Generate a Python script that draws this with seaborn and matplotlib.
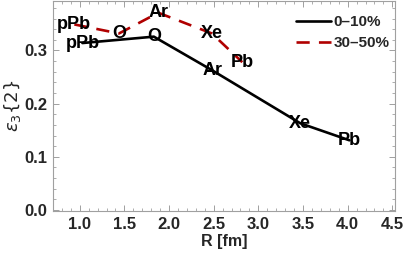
import numpy as np
import pandas as pd
import matplotlib
matplotlib.use("Agg")
import matplotlib.pyplot as plt
import seaborn as sns
from matplotlib.ticker import MultipleLocator

# data
nuclei = ["pPb", "O", "Ar", "Xe", "Pb"]
r_central = [1.03, 1.83, 2.49, 3.47, 4.02]
eps_central = [0.314, 0.326, 0.262, 0.163, 0.131]
r_peripheral = [0.94, 1.44, 1.88, 2.48, 2.82]
eps_peripheral = [0.349, 0.332, 0.371, 0.332, 0.278]
cent_labels = ["0\u201310%", "30\u201350%"]

df = pd.concat([
    pd.DataFrame({"R": r_central, "eps": eps_central, "nuc": nuclei, "cent": cent_labels[0]}),
    pd.DataFrame({"R": r_peripheral, "eps": eps_peripheral, "nuc": nuclei, "cent": cent_labels[1]}),
], ignore_index=True)

sns.set_style("ticks")
plt.rcParams["font.family"] = ["Liberation Sans", "DejaVu Sans"]
plt.rcParams["mathtext.fontset"] = "dejavusans"

fig = plt.figure(figsize=(4.07, 2.57), dpi=100)
ax = fig.add_axes([0.130, 0.179, 0.8405, 0.819])

red = "#b00000"
sns.lineplot(data=df, x="R", y="eps", hue="cent", style="cent",
             palette={cent_labels[0]: "black", cent_labels[1]: red},
             dashes={cent_labels[0]: "", cent_labels[1]: (5, 3.5)},
             estimator=None, sort=True, linewidth=1.9, ax=ax)

# point labels
for x, y, t in zip(r_central, eps_central, nuclei):
    ax.text(x, y, t, ha="center", va="center", fontsize=13, fontweight="bold", color="black")
for x, y, t in zip(r_peripheral, eps_peripheral, nuclei):
    ax.text(x, y, t, ha="center", va="center", fontsize=13, fontweight="bold", color="black")

ax.set_xlim(0.7, 4.53)
ax.set_ylim(-0.002, 0.394)
ax.xaxis.set_major_locator(MultipleLocator(0.5))
ax.xaxis.set_minor_locator(MultipleLocator(0.1))
ax.yaxis.set_major_locator(MultipleLocator(0.1))
ax.yaxis.set_minor_locator(MultipleLocator(0.02))
ax.xaxis.set_major_formatter(matplotlib.ticker.FormatStrFormatter("%.1f"))
ax.yaxis.set_major_formatter(matplotlib.ticker.FormatStrFormatter("%.1f"))

for s in ax.spines.values():
    s.set_color("#a0a0a0")
    s.set_linewidth(0.8)
ax.tick_params(which="both", direction="in", top=True, right=True, color="#a0a0a0")
ax.tick_params(which="major", length=4, width=0.7, labelsize=12, pad=4)
ax.tick_params(which="minor", length=2, width=0.6)
for lab in ax.get_xticklabels() + ax.get_yticklabels():
    lab.set_fontweight("bold")

ax.set_xlabel("R [fm]", fontsize=11.5, fontweight="bold", labelpad=2)
ax.set_ylabel(r"$\varepsilon_3\{2\}$", fontsize=13, labelpad=1)

h, l = ax.get_legend_handles_labels()
leg = ax.legend(h, l, loc="upper left", bbox_to_anchor=(0.68, 0.98), frameon=False,
                fontsize=11, handlelength=2.3, handletextpad=0.15, labelspacing=0.45,
                borderpad=0.2)
for t in leg.get_texts():
    t.set_fontweight("bold")

fig.savefig("out.png", dpi=100)
